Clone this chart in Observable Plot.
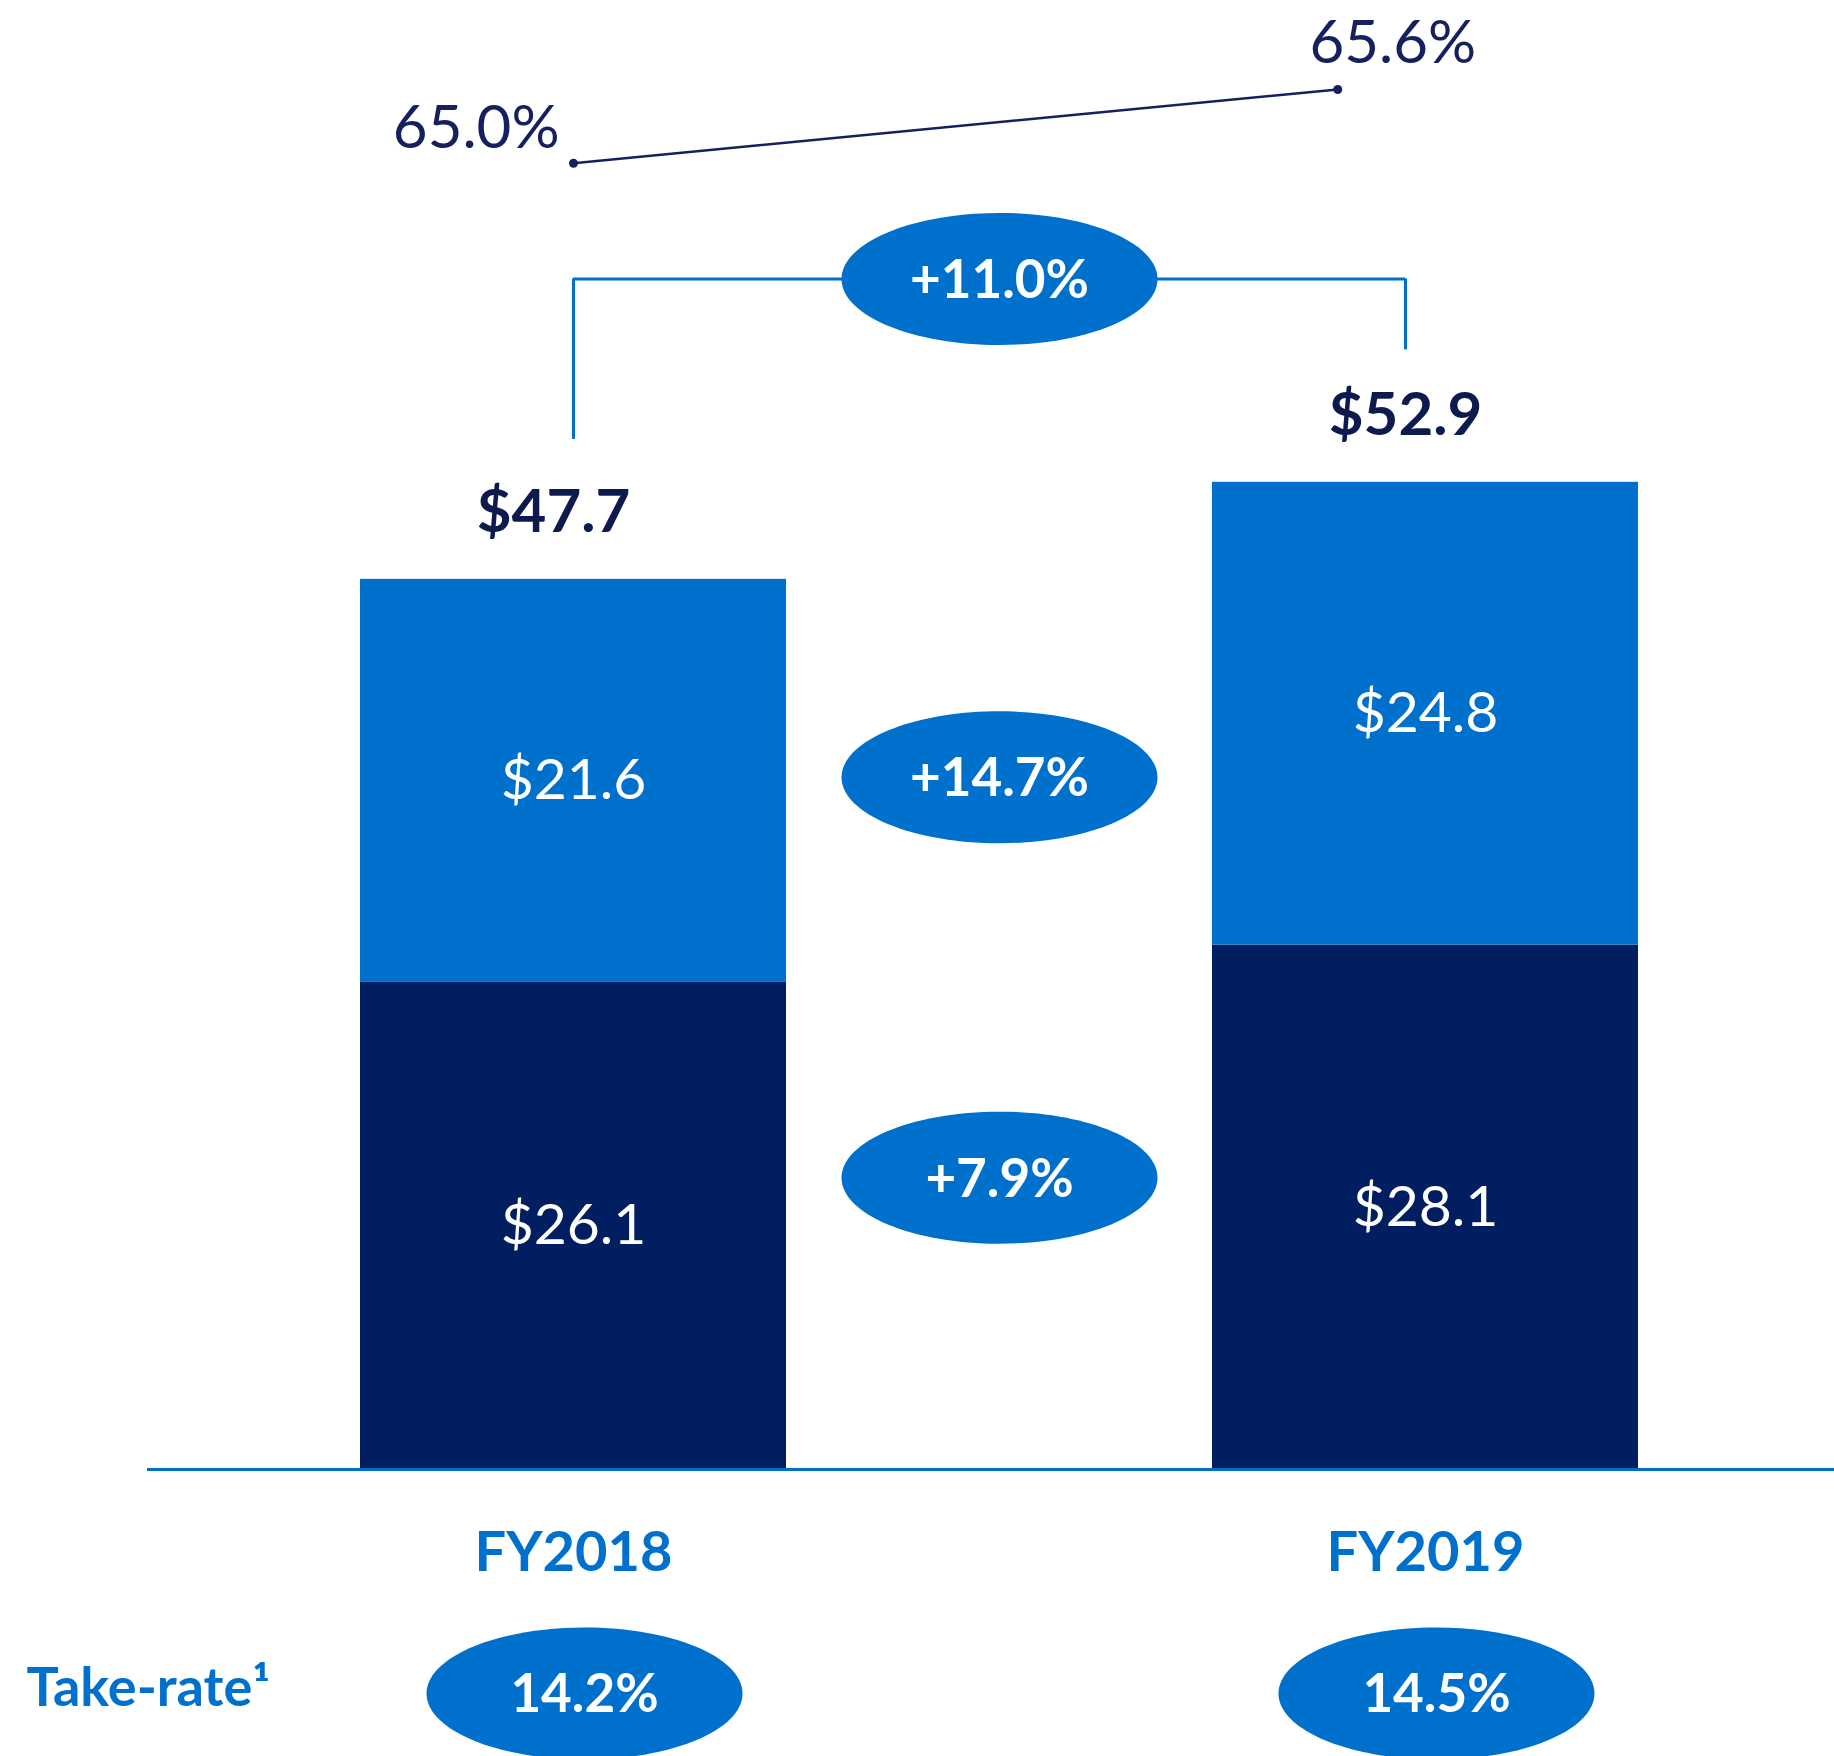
<!DOCTYPE html>
<html><head><meta charset="utf-8">
<script src="https://cdn.jsdelivr.net/npm/d3@7"></script>
<script src="https://cdn.jsdelivr.net/npm/@observablehq/plot@0.6"></script>
<style>html,body{margin:0;padding:0;background:#fff;overflow:hidden}</style>
</head><body><div id="chart"></div>
<script>
// ---- data ----
const categories = ["FY2018", "FY2019"];
const lowerValues = [26.1, 28.1];
const upperValues = [21.6, 24.8];
const totals = [47.7, 52.9];
const lowerGrowth = ["+7.9%"];
const upperGrowth = ["+14.7%"];
const totalGrowth = ["+11.0%"];
const margins = [65.0, 65.6];
const takeRates = [14.2, 14.5];
const takeRateLabel = ["Take-rate\u00B9"];

// ---- styling ----
const NAVY = "#001E60";
const BLUE = "#0070CD";
const LINE = "#16205E";
const W = 1834, H = 1756;

const fmt$ = v => "$" + v.toFixed(1);
const fmtPct = v => v.toFixed(1) + "%";

const ellipse = (a, b) => ({
  draw(ctx) {
    const k = 0.5523;
    ctx.moveTo(a, 0);
    ctx.bezierCurveTo(a, b * k, a * k, b, 0, b);
    ctx.bezierCurveTo(-a * k, b, -a, b * k, -a, 0);
    ctx.bezierCurveTo(-a, -b * k, -a * k, -b, 0, -b);
    ctx.bezierCurveTo(a * k, -b, a, -b * k, a, 0);
    ctx.closePath();
  }
});
const oval = ellipse(158, 66);

const lowerRows = categories.map((c, i) => ({c, i, y1: 0, y2: lowerValues[i], v: lowerValues[i]}));
const upperRows = categories.map((c, i) => ({c, i, y1: lowerValues[i], y2: lowerValues[i] + upperValues[i], v: upperValues[i]}));
const totalRows = categories.map((c, i) => ({c, i, v: totals[i]}));
const maxTotal = d3.max(totals);

// margin line lives above the bars on its own small scale
const marginToY = d3.scaleLinear().domain(margins).range([maxTotal + 17.1, maxTotal + 21.05]);
const marginRows = margins.map((m, i) => ({i, m, x: i * 0.897, y: marginToY(m)}));

const bracketY = maxTotal + 10.9;
const labelShift = 20 / 852; // total labels sit slightly left of bar centre
const takeRows = categories.map((c, i) => ({c, i, v: takeRates[i]}));

const chart = Plot.plot({
  width: W, height: H,
  margin: 0,
  x: {domain: [0, 1], range: [573, 1425], axis: null},
  y: {domain: [-15.38, 78.72], range: [H, 0], axis: null},
  style: {fontFamily: "Lato, 'Open Sans', sans-serif", background: "#fff"},
  marks: [
    // bars
    Plot.rectY(lowerRows, {x1: d => d.i - 0.25, x2: d => d.i + 0.25, y1: "y1", y2: "y2", fill: NAVY}),
    Plot.rectY(upperRows, {x1: d => d.i - 0.25, x2: d => d.i + 0.25, y1: "y1", y2: "y2", fill: BLUE}),
    // baseline
    Plot.ruleY([0], {x1: -0.5, x2: 1.6, stroke: BLUE, strokeWidth: 3}),
    // segment labels
    Plot.text(lowerRows, {x: "i", y: d => (d.y1 + d.y2) / 2, text: d => fmt$(d.v), fill: "white", fontSize: 57}),
    Plot.text(upperRows, {x: "i", y: d => (d.y1 + d.y2) / 2, text: d => fmt$(d.v), fill: "white", fontSize: 57}),
    // total labels
    Plot.text(totalRows, {x: d => d.i - labelShift, y: "v", text: d => fmt$(d.v), dy: -67, fill: "#0D1A4E", fontSize: 60, fontWeight: "bold"}),
    // bracket
    Plot.ruleX(totalRows, {filter: d => d.i === 0, x: "i", y1: d => d.v + 7.5, y2: bracketY, stroke: BLUE, strokeWidth: 3}),
    Plot.ruleX(totalRows, {filter: d => d.i === 1, x: d => d.i - labelShift, y1: d => d.v + 7.1, y2: bracketY, stroke: BLUE, strokeWidth: 3}),
    Plot.ruleY([bracketY], {x1: 0, x2: 1 - labelShift, stroke: BLUE, strokeWidth: 3}),
    // growth ovals
    Plot.dot(totalGrowth, {x: 0.5, y: bracketY, symbol: oval, fill: BLUE, stroke: null}),
    Plot.text(totalGrowth, {x: 0.5, y: bracketY, text: d => d, fill: "white", fontSize: 53, fontWeight: "bold", dy: 2}),
    Plot.dot(upperGrowth, {x: 0.5, y: d3.mean(lowerValues) + d3.mean(upperValues) / 2, dy: 30, symbol: oval, fill: BLUE, stroke: null}),
    Plot.text(upperGrowth, {x: 0.5, y: d3.mean(lowerValues) + d3.mean(upperValues) / 2, dy: 32, text: d => d, fill: "white", fontSize: 53, fontWeight: "bold"}),
    Plot.dot(lowerGrowth, {x: 0.5, y: d3.mean(lowerValues) / 2, dy: -39, symbol: oval, fill: BLUE, stroke: null}),
    Plot.text(lowerGrowth, {x: 0.5, y: d3.mean(lowerValues) / 2, dy: -37, text: d => d, fill: "white", fontSize: 53, fontWeight: "bold"}),
    // margin line
    Plot.line(marginRows, {x: "x", y: "y", stroke: LINE, strokeWidth: 2.5}),
    Plot.dot(marginRows, {x: "x", y: "y", r: 4.5, fill: LINE}),
    Plot.text(marginRows, {filter: d => d.i === 0, x: "x", y: "y", text: d => fmtPct(d.m), textAnchor: "end", dx: -14, dy: -34, fill: LINE, fontSize: 60}),
    Plot.text(marginRows, {filter: d => d.i === 1, x: "x", y: "y", text: d => fmtPct(d.m), dx: 55, dy: -46, fill: LINE, fontSize: 60}),
    // category labels
    Plot.text(categories, {x: (d, i) => i, y: 0, dy: 84, text: d => d, fill: BLUE, fontSize: 56, fontWeight: "bold"}),
    // take-rate
    Plot.text(takeRateLabel, {frameAnchor: "left", y: 0, dy: 219, dx: 26, textAnchor: "start", text: d => d, fill: BLUE, fontSize: 54, fontWeight: "bold"}),
    Plot.dot(takeRows, {x: "i", y: 0, dx: 11, dy: 224, symbol: oval, fill: BLUE, stroke: null}),
    Plot.text(takeRows, {x: "i", y: 0, dx: 11, dy: 226, text: d => fmtPct(d.v), fill: "white", fontSize: 53, fontWeight: "bold"})
  ]
});
document.getElementById("chart").appendChild(chart);
</script>
</body></html>
